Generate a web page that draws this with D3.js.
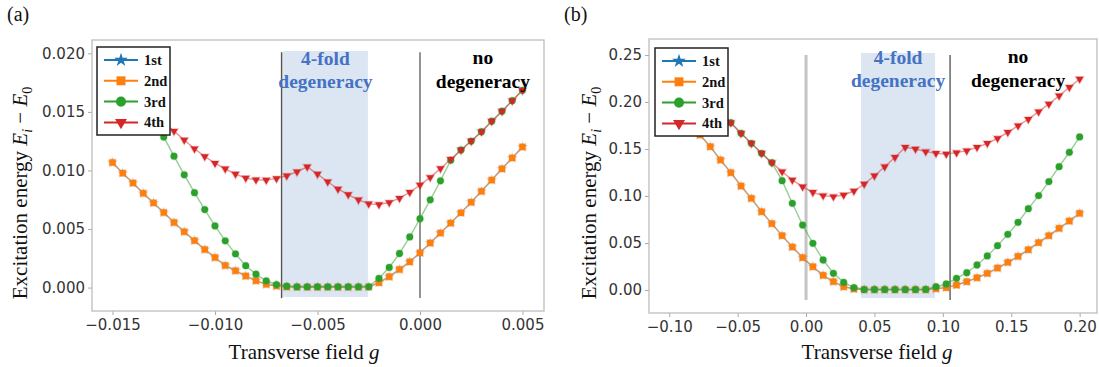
<!DOCTYPE html>
<html><head><meta charset="utf-8">
<script src="https://cdn.jsdelivr.net/npm/d3@7"></script>
<style>body{margin:0;background:#fff}svg{display:block}</style>
</head><body>
<svg id="chart" width="1099" height="367"></svg>
<script>
// ---------- data ----------
const seriesNames = ["1st", "2nd", "3rd", "4th"];
const seriesColors = ["#1f77b4", "#ff7f0e", "#2ca02c", "#d62728"];

// panel (a)
const gA = [-0.015,-0.0145,-0.014,-0.0135,-0.013,-0.0125,-0.012,-0.0115,-0.011,-0.0105,
  -0.010,-0.0095,-0.009,-0.0085,-0.008,-0.0075,-0.007,-0.0065,-0.006,-0.0055,
  -0.005,-0.0045,-0.004,-0.0035,-0.003,-0.0025,-0.002,-0.0015,-0.001,-0.0005,
  0.000,0.0005,0.001,0.0015,0.002,0.0025,0.003,0.0035,0.004,0.0045,0.005];
const a2nd = [0.01068,0.00977,0.00893,0.00805,0.00723,0.00641,0.00556,0.00477,0.00401,0.00325,
  0.00257,0.00189,0.00144,0.00099,0.00059,0.00028,0.00014,0.00006,0.00005,0.00005,
  0.00005,0.00005,0.00005,0.00005,0.00005,0.00006,0.00042,0.00093,0.00155,0.00220,
  0.00297,0.00381,0.00466,0.00551,0.00638,0.00729,0.00822,0.00918,0.01014,0.01107,0.01201];
const a1st = [0.01068,0.00977,0.00893,0.00805,0.00723,0.00641,0.00556,0.00477,0.00401,0.00325,
  0.00257,0.00189,0.00144,0.00099,0.00059,0.00028,0.00014,0.00006,0.00005,0.00005,
  0.00005,0.00005,0.00005,0.00005,0.00005,0.00006,0.00042,0.00093,0.00155,0.00220,
  0.00297,0.00381,0.00466,0.00551,0.00638,0.00729,0.00822,0.00918,0.01014,0.01107,0.01201];
const a3rd = [0.0200,0.0187,0.0173,0.0159,0.0145,0.01285,0.01122,0.00963,0.00810,0.00666,
  0.00526,0.00399,0.00288,0.00187,0.00114,0.00058,0.00026,0.00012,0.00006,0.00006,
  0.00006,0.00006,0.00006,0.00006,0.00006,0.00006,0.00079,0.00172,0.00291,0.00432,
  0.00588,0.00749,0.00912,0.01088,0.01175,0.01251,0.01331,0.01421,0.01506,0.01596,0.01684];
const a4th = [0.0178,0.0171,0.0163,0.0156,0.0148,0.0141,0.01336,0.01260,0.01186,0.01119,
  0.01062,0.01014,0.00969,0.00935,0.00921,0.00918,0.00932,0.00955,0.00989,0.01031,
  0.00969,0.00904,0.00842,0.00794,0.00749,0.00715,0.00709,0.00726,0.00763,0.00814,
  0.00876,0.00941,0.01017,0.01096,0.01175,0.01251,0.01331,0.01421,0.01506,0.01596,0.01684];
const xTicksA = [-0.015, -0.010, -0.005, 0.000, 0.005];
const yTicksA = [0.000, 0.005, 0.010, 0.015, 0.020];
const vlinesA = [-0.00675, 0.0];
const bandA = [-0.00668, -0.00254];

// panel (b)
const gB = [-0.1,-0.0925,-0.085,-0.0775,-0.07,-0.0625,-0.055,-0.0475,-0.04,-0.0325,
  -0.025,-0.0175,-0.01,-0.0025,0.005,0.0125,0.02,0.0275,0.035,0.0425,
  0.05,0.0575,0.065,0.0725,0.08,0.0875,0.095,0.1025,0.11,0.1175,
  0.125,0.1325,0.14,0.1475,0.155,0.1625,0.17,0.1775,0.185,0.1925,0.2];
const b2nd = [0.201,0.189,0.177,0.1649,0.1525,0.1383,0.1248,0.1106,0.0975,0.0833,
  0.0706,0.0578,0.0457,0.0344,0.0248,0.0156,0.0089,0.0035,0.0011,0.0004,
  0.0004,0.0004,0.0004,0.0004,0.0004,0.0005,0.0014,0.0025,0.0053,0.0089,
  0.0131,0.0177,0.0234,0.0294,0.0358,0.0429,0.0504,0.0578,0.0656,0.0734,0.0816];
const b1st = [0.201,0.189,0.177,0.1649,0.1525,0.1383,0.1248,0.1106,0.0975,0.0833,
  0.0706,0.0578,0.0457,0.0344,0.0248,0.0156,0.0089,0.0035,0.0011,0.0004,
  0.0004,0.0004,0.0004,0.0004,0.0004,0.0005,0.0014,0.0025,0.0053,0.0089,
  0.0131,0.0177,0.0234,0.0294,0.0358,0.0429,0.0504,0.0578,0.0656,0.0734,0.0816];
const b3rd = [0.244,0.233,0.222,0.211,0.200,0.189,0.1780,0.1667,0.1560,0.1454,
  0.1355,0.1163,0.0922,0.0691,0.0496,0.0319,0.0177,0.0082,0.0025,0.0005,
  0.0005,0.0005,0.0005,0.0005,0.0005,0.0006,0.0035,0.0064,0.0124,0.0184,
  0.0266,0.0362,0.0472,0.0592,0.0720,0.0865,0.1004,0.1153,0.1312,0.1465,0.1628];
const b4th = [0.244,0.233,0.222,0.211,0.200,0.189,0.1780,0.1667,0.1560,0.1454,
  0.1355,0.1259,0.1170,0.1099,0.1039,0.1004,0.0993,0.1011,0.1053,0.1128,
  0.1216,0.1312,0.1411,0.1518,0.1500,0.1472,0.1454,0.1447,0.1461,0.1482,
  0.1518,0.1560,0.1613,0.1677,0.1748,0.1816,0.1897,0.1979,0.2067,0.2156,0.2245];
const xTicksB = [-0.10, -0.05, 0.00, 0.05, 0.10, 0.15, 0.20];
const yTicksB = [0.00, 0.05, 0.10, 0.15, 0.20, 0.25];
const vlinesB = [0.0, 0.1053];
const bandB = [0.0402, 0.0943];

// ---------- drawing ----------
const svg = d3.select("#chart");
const symbolTypes = [d3.symbolStar, d3.symbolSquare, d3.symbolCircle, d3.symbolTriangle];
const symbolRot = [0, 0, 0, 180];
const plotSizes = [14, 40, 36, 26];
const legendSizes = [60, 80, 80, 62];
const serif = "'Liberation Serif', 'Times New Roman', serif";
const sans = "'DejaVu Sans', sans-serif";

function drawPanel(o) {
  const g = svg.append("g");
  const x = d3.scaleLinear().domain(o.xDomain).range([o.left, o.right]);
  const y = d3.scaleLinear().domain(o.yDomain).range([o.bottom, o.top]);

  // band
  g.append("rect")
    .attr("x", x(o.band[0])).attr("width", x(o.band[1]) - x(o.band[0]))
    .attr("y", y(o.bandY[1])).attr("height", y(o.bandY[0]) - y(o.bandY[1]))
    .attr("fill", "#dce6f2");
  // vertical lines
  o.vlines.forEach((v, i) => {
    g.append("line")
      .attr("x1", x(v)).attr("x2", x(v))
      .attr("y1", y(o.vlineY[1])).attr("y2", y(o.vlineY[0]))
      .attr("stroke", o.vlineColors[i]).attr("stroke-width", o.vlineWidths[i]);
  });

  // axes
  const ax = g.append("g").attr("transform", `translate(0,${o.bottom})`)
    .call(d3.axisBottom(x).tickValues(o.xTicks).tickFormat(d3.format(o.xFmt)).tickSize(4).tickPadding(4));
  const ay = g.append("g").attr("transform", `translate(${o.left},0)`)
    .call(d3.axisLeft(y).tickValues(o.yTicks).tickFormat(d3.format(o.yFmt)).tickSize(4).tickPadding(3));
  [ax, ay].forEach(a => {
    a.select(".domain").remove();
    a.selectAll(".tick line").attr("stroke", "#aaa");
    a.selectAll(".tick text").attr("fill", "#333").style("font-family", sans).style("font-size", "15px");
  });

  // series
  const line = d3.line().x(d => x(d[0])).y(d => y(d[1]));
  o.series.forEach((vals, si) => {
    const pts = o.gs.map((gv, k) => [gv, vals[k]]);
    g.append("path").datum(pts).attr("d", line)
      .attr("fill", "none").attr("stroke", seriesColors[si])
      .attr("stroke-width", 1.4).attr("stroke-opacity", 0.5);
    const sym = d3.symbol().type(symbolTypes[si]).size(plotSizes[si]);
    g.append("g").selectAll("path").data(pts).join("path")
      .attr("d", sym)
      .attr("transform", d => `translate(${x(d[0])},${y(d[1])}) rotate(${symbolRot[si]})`)
      .attr("fill", seriesColors[si])
      .attr("stroke", seriesColors[si]).attr("stroke-opacity", 0.25).attr("stroke-width", 1.6);
  });

  // frame
  g.append("rect").attr("x", o.left).attr("y", o.top)
    .attr("width", o.right - o.left).attr("height", o.bottom - o.top)
    .attr("fill", "none").attr("stroke", "#bdbdbd").attr("stroke-width", 1.3);

  // annotations
  const ann = g.append("g").style("font-family", serif).style("font-weight", "bold").style("font-size", "19.5px")
    .attr("text-anchor", "middle");
  const bc = (o.band[0] + o.band[1]) / 2;
  ann.append("text").attr("x", x(bc)).attr("y", o.top + 25).attr("fill", "#4472c4").text("4-fold");
  ann.append("text").attr("x", x(bc)).attr("y", o.top + 48).attr("fill", "#4472c4").text("degeneracy");
  ann.append("text").attr("x", x(o.noDegX)).attr("y", o.top + 24).attr("fill", "#000").text("no");
  ann.append("text").attr("x", x(o.noDegX)).attr("y", o.top + 48).attr("fill", "#000").text("degeneracy");

  // legend
  const lg = g.append("g").attr("transform", `translate(${o.legendX},${o.legendY})`);
  lg.append("rect").attr("width", 73).attr("height", 88).attr("fill", "#fff")
    .attr("stroke", "#222").attr("stroke-width", 1.5);
  seriesNames.forEach((nm, si) => {
    const yy = 13 + si * 20.8;
    lg.append("line").attr("x1", 7).attr("x2", 41).attr("y1", yy).attr("y2", yy)
      .attr("stroke", seriesColors[si]).attr("stroke-width", 2);
    lg.append("path").attr("d", d3.symbol().type(symbolTypes[si]).size(legendSizes[si]))
      .attr("transform", `translate(24,${yy}) rotate(${symbolRot[si]})`)
      .attr("fill", seriesColors[si]);
    lg.append("text").attr("x", 47).attr("y", yy + 5).text(nm)
      .style("font-family", serif).style("font-weight", "bold").style("font-size", "14.5px").attr("fill", "#111");
  });

  // axis labels
  svg.append("text").attr("x", o.xLabelX).attr("y", 359).attr("text-anchor", "middle")
    .style("font-family", serif).style("font-size", "21px").attr("fill", "#111")
    .call(t => { t.append("tspan").text("Transverse field "); t.append("tspan").style("font-style", "italic").text("g"); });
  const yl = svg.append("text").attr("transform", `translate(${o.yLabelX},193) rotate(-90)`)
    .attr("text-anchor", "middle").style("font-family", serif).style("font-size", "21px").attr("fill", "#111");
  yl.append("tspan").text("Excitation energy ");
  yl.append("tspan").style("font-style", "italic").text("E");
  yl.append("tspan").attr("dy", 5).style("font-style", "italic").style("font-size", "14px").text("i");
  yl.append("tspan").attr("dy", -5).text(" \u2212 ");
  yl.append("tspan").style("font-style", "italic").text("E");
  yl.append("tspan").attr("dy", 5).style("font-size", "14px").text("0");

  svg.append("text").attr("x", o.panelLabelX).attr("y", 21)
    .style("font-family", serif).style("font-size", "20px").attr("fill", "#111").text(o.panelLabel);
}

drawPanel({
  gs: gA, series: [a1st, a2nd, a3rd, a4th],
  left: 92, right: 544, top: 40, bottom: 311,
  xDomain: [-0.0160, 0.00605], yDomain: [-0.00200, 0.02114],
  xTicks: xTicksA, yTicks: yTicksA, xFmt: ".3f", yFmt: ".3f",
  band: bandA, bandY: [-0.0008, 0.0202],
  vlines: vlinesA, vlineY: [-0.0009, 0.0201], vlineColors: ["#555", "#888"], vlineWidths: [1.5, 1.8],
  noDegX: 0.00307, legendX: 97, legendY: 47,
  xLabelX: 304, yLabelX: 27, panelLabel: "(a)", panelLabelX: 7
});
drawPanel({
  gs: gB, series: [b1st, b2nd, b3rd, b4th],
  left: 649, right: 1097, top: 39, bottom: 313,
  xDomain: [-0.1148, 0.2127], yDomain: [-0.02447, 0.2670],
  xTicks: xTicksB, yTicks: yTicksB, xFmt: ".2f", yFmt: ".2f",
  band: bandB, bandY: [-0.0085, 0.2521],
  vlines: vlinesB, vlineY: [-0.0106, 0.250], vlineColors: ["#c4c4c4", "#666"], vlineWidths: [3, 1.5],
  noDegX: 0.155, legendX: 655, legendY: 48,
  xLabelX: 877, yLabelX: 596, panelLabel: "(b)", panelLabelX: 564
});
</script>
</body></html>
